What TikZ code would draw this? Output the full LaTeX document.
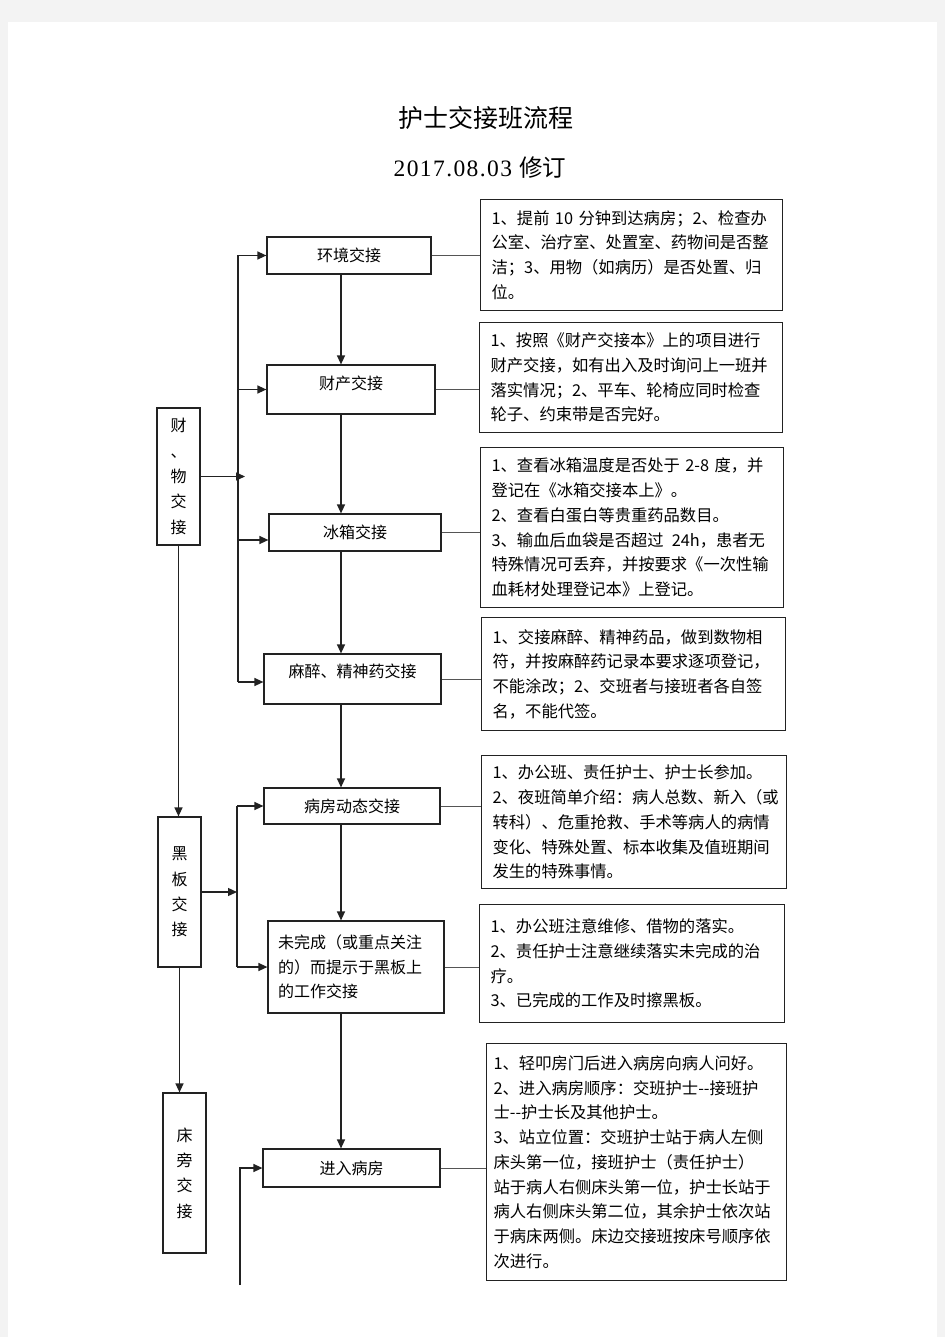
\documentclass[tikz,border=0pt]{standalone}
\usepackage{fontspec}
\setmainfont{Liberation Serif}
\newfontfamily\cjk{Noto Sans CJK SC}
\newfontfamily\datefont[LetterSpace=6]{Liberation Serif}
\usetikzlibrary{arrows.meta}
\definecolor{pagebg}{HTML}{F3F3F3}
\definecolor{linec}{HTML}{222222}
\definecolor{thinc}{HTML}{555555}
\begin{document}
\begin{tikzpicture}[x=1pt,y=-1pt,
  line width=1.2pt,
  midbox/.style={draw=linec, fill=white, inner sep=0pt, font=\cjk\fontsize{16}{25}\selectfont},
  sidebox/.style={draw=linec, fill=white, inner sep=0pt, align=center, minimum width=43pt, font=\cjk\fontsize{16}{25.3}\selectfont},
  note/.style={draw=linec, fill=white, anchor=north west, align=left, inner xsep=11pt, inner ysep=0pt, font=\cjk\fontsize{16.3}{24.75}\selectfont},
  arr/.style={draw=linec, line width=1.3pt, -{Triangle[length=9pt,width=8pt]}},
  ln/.style={draw=thinc, line width=0.9pt}
]
\useasboundingbox (0,0) rectangle (945,1337);
\fill[pagebg] (0,0) rectangle (945,1337);
\fill[white] (8,22) rectangle (937,1337);

% title
\node[font=\cjk\fontsize{25}{25}\selectfont] (title) at (486,118) {护士交接班流程};
\node[font=\datefont\fontsize{23.5}{23.5}\selectfont] (date) at (480,168) {2017.08.03 {\cjk 修订}};

% middle column
\node[midbox, minimum width=164pt, minimum height=37pt] (m1) at (349,255.5) {环境交接};
\node[midbox, minimum width=168pt, minimum height=49pt, text depth=13pt] (m2) at (351,389.5) {财产交接};
\node[midbox, minimum width=172pt, minimum height=37pt] (m3) at (355,532.5) {冰箱交接};
\node[midbox, minimum width=177pt, minimum height=50pt, text depth=16pt] (m4) at (352.5,679) {麻醉、精神药交接};
\node[midbox, minimum width=176pt, minimum height=92pt, align=left, text width=156pt, inner xsep=10pt, font=\cjk\fontsize{16}{24.5}\selectfont] (m6) at (356,967) {未完成（或重点关注\\的）而提示于黑板上\\的工作交接};
\node[midbox, minimum width=176pt, minimum height=36pt] (m5) at (352,806) {病房动态交接};
\node[midbox, minimum width=177pt, minimum height=38pt] (m7) at (351.5,1168) {进入病房};

% left column
\node[sidebox, minimum height=137pt] (l1) at (178.5,476.5) {财\\、\\物\\交\\接};
\node[sidebox, minimum height=150pt] (l2) at (179.5,892) {黑\\板\\交\\接};
\node[sidebox, minimum height=160pt] (l3) at (184.5,1173) {床\\旁\\交\\接};

% right notes
\node[note, minimum width=302pt, minimum height=111pt, text width=280pt] (r1) at (480,199)
 {1、提前 10 分钟到达病房；2、检查办\\公室、治疗室、处置室、药物间是否整\\洁；3、用物（如病历）是否处置、归\\位。};
\node[note, minimum width=303pt, minimum height=110pt, text width=281pt] (r2) at (479,322)
 {1、按照《财产交接本》上的项目进行\\财产交接，如有出入及时询问上一班并\\落实情况；2、平车、轮椅应同时检查\\轮子、约束带是否完好。};
\node[note, minimum width=303pt, minimum height=160pt, text width=281pt] (r3) at (480,447)
 {1、查看冰箱温度是否处于 2-8 度，并\\登记在《冰箱交接本上》。\\2、查看白蛋白等贵重药品数目。\\3、输血后血袋是否超过 \,24h，患者无\\特殊情况可丢弃，并按要求《一次性输\\血耗材处理登记本》上登记。};
\node[note, minimum width=304pt, minimum height=113pt, text width=282pt] (r4) at (481,617)
 {1、交接麻醉、精神药品，做到数物相\\符，并按麻醉药记录本要求逐项登记，\\不能涂改；2、交班者与接班者各自签\\名，不能代签。};
\node[note, minimum width=305pt, minimum height=133pt, text width=283pt] (r5) at (481,755)
 {1、办公班、责任护士、护士长参加。\\2、夜班简单介绍：病人总数、新入（或\\转科）、危重抢救、手术等病人的病情\\变化、特殊处置、标本收集及值班期间\\发生的特殊事情。};
\node[note, minimum width=305pt, minimum height=118pt, text width=283pt] (r6) at (479,904)
 {1、办公班注意维修、借物的落实。\\2、责任护士注意继续落实未完成的治\\疗。\\3、已完成的工作及时擦黑板。};
\node[note, minimum width=300pt, minimum height=237pt, text width=286pt, inner xsep=7pt] (r7) at (486,1043)
 {1、轻叩房门后进入病房向病人问好。\\2、进入病房顺序：交班护士--接班护\\士--护士长及其他护士。\\3、站立位置：交班护士站于病人左侧\\床头第一位，接班护士（责任护士）\\站于病人右侧床头第一位，护士长站于\\病人右侧床头第二位，其余护士依次站\\于病床两侧。床边交接班按床号顺序依\\次进行。};

% connectors middle -> notes
\foreach \i in {1,...,7} {
  \draw[ln] (m\i.east) -- (m\i.east -| r\i.west);
}

% vertical arrows in middle column
\coordinate (vx) at (341,0);
\draw[arr] (m1.south -| vx) -- (m2.north -| vx);
\draw[arr] (m2.south -| vx) -- (m3.north -| vx);
\draw[arr] (m3.south -| vx) -- (m4.north -| vx);
\draw[arr] (m4.south -| vx) -- (m5.north -| vx);
\draw[arr] (m5.south -| vx) -- (m6.north -| vx);
\draw[arr] (m6.south -| vx) -- (m7.north -| vx);

% left column arrows
\draw[arr] (l1.south) -- (l1.south |- l2.north);
\draw[arr] (l2.south) -- (l2.south |- l3.north);

% bus 1
\coordinate (b1) at (238,0);
\draw[arr, -] (m1.west -| b1) -- ([yshift=-3pt]m4.west -| b1);
\draw[arr] (m1.west -| b1) -- (m1.west);
\draw[arr] (m2.west -| b1) -- (m2.west);
\draw[arr] ([yshift=-7.5pt]m3.west -| b1) -- ([yshift=-7.5pt]m3.west);
\draw[arr] ([yshift=-3pt]m4.west -| b1) -- ([yshift=-3pt]m4.west);
\draw[arr] (l1.east) -- ([xshift=7pt]l1.east -| b1);

% bus 2
\coordinate (b2) at (237,0);
\draw[arr, -] (m5.west -| b2) -- (m6.west -| b2);
\draw[arr] (m5.west -| b2) -- (m5.west);
\draw[arr] (m6.west -| b2) -- (m6.west);
\draw[arr] (l2.east) -- (l2.east -| b2);

% bus 3
\coordinate (b3) at (240,1285);
\draw[arr] (b3) -- (b3 |- m7.west) -- (m7.west);
\end{tikzpicture}
\end{document}
